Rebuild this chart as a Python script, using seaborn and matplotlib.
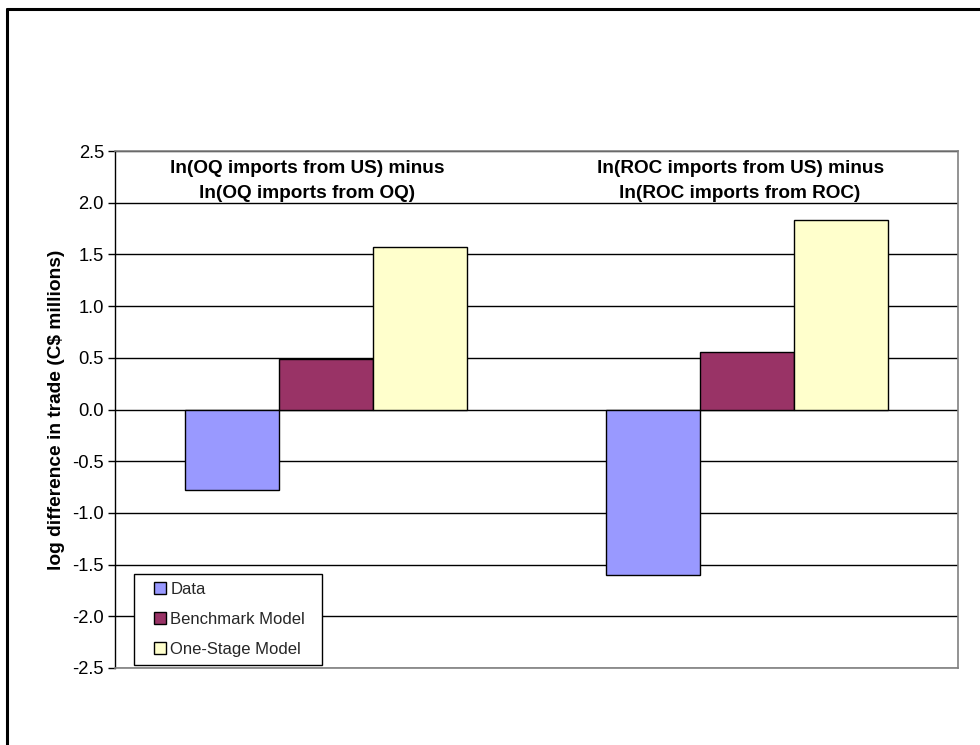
import matplotlib
matplotlib.use("Agg")
import matplotlib.pyplot as plt
import seaborn as sns
import pandas as pd
from matplotlib.patches import Rectangle
from matplotlib.lines import Line2D

sns.set_theme(style="white")
plt.rcParams['font.family'] = ['Liberation Sans', 'DejaVu Sans']
plt.rcParams['axes.unicode_minus'] = False

groups = ["OQ", "ROC"]
group_labels = ["ln(OQ imports from US) minus\nln(OQ imports from OQ)",
                "ln(ROC imports from US) minus\nln(ROC imports from ROC)"]
series = ["Data", "Benchmark Model", "One-Stage Model"]
data_vals = [-0.78, -1.60]
benchmark_vals = [0.49, 0.56]
onestage_vals = [1.57, 1.83]
colors = ["#9999FF", "#993366", "#FFFFCC"]
yticks = [2.5, 2.0, 1.5, 1.0, 0.5, 0.0, -0.5, -1.0, -1.5, -2.0, -2.5]

rows = []
for s, vals in zip(series, [data_vals, benchmark_vals, onestage_vals]):
    for g, v in zip(groups, vals):
        rows.append({"group": g, "series": s, "value": v})
df = pd.DataFrame(rows)

fig = plt.figure(figsize=(9.8, 7.45), dpi=100)
ax = fig.add_axes([115/980, 1-668/745, 843/980, 517/745])

ax.set_axisbelow(True)
for t in yticks:
    ax.axhline(t, color="black", lw=1.0, zorder=0)

sns.barplot(data=df, x="group", y="value", hue="series", order=groups,
            hue_order=series, palette=colors, width=0.669, gap=0,
            edgecolor="black", linewidth=1.0, saturation=1, ax=ax,
            legend=False, zorder=2)

ax.set_xlim(-0.5, 1.5)
ax.set_ylim(-2.5, 2.5)
ax.set_yticks(yticks)
ax.set_yticklabels([f"{t:.1f}" for t in yticks], fontsize=13.2, color="black")
ax.set_xticks([])
ax.set_xlabel("")
ax.set_ylabel("log difference in trade (C$ millions)", fontsize=13.8,
              fontweight="bold", color="black", labelpad=5)
ax.tick_params(axis="y", direction="out", length=5, width=1, color="black",
               pad=3, left=True)

for side in ["top", "right", "bottom"]:
    ax.spines[side].set_color("#808080")
    ax.spines[side].set_linewidth(1.2)
ax.spines["left"].set_color("black")
ax.spines["left"].set_linewidth(1.0)

text_x = [-0.045, 0.983]
for x, lab in zip(text_x, group_labels):
    ax.text(x, 2.21, lab, ha="center", va="center", multialignment="center",
            fontsize=13.7, fontweight="bold", color="black", linespacing=1.6,
            zorder=5)

# legend
rx0, rw = 19/843, 188/843
ry0, rh = 3/517, 91/517
ax.add_patch(Rectangle((rx0, ry0), rw, rh, transform=ax.transAxes,
                       facecolor="white", edgecolor="black", lw=1.0, zorder=6))
handles = [Rectangle((0, 0), 1, 1, facecolor=c, edgecolor="black", lw=1.0)
           for c in colors]
leg = ax.legend(handles, series, loc="center",
                bbox_to_anchor=(rx0 + rw/2 + 0.002, ry0 + rh/2),
                frameon=False, fontsize=12, handlelength=0.7, handleheight=0.7,
                handletextpad=0.25, labelspacing=0.9, borderpad=0.2)
leg.set_zorder(7)

# outer border (top and left)
fig.add_artist(Line2D([7/980, 1.0], [1-9/745, 1-9/745], color="black", lw=2.2,
                      transform=fig.transFigure))
fig.add_artist(Line2D([7/980, 7/980], [0, 1-9/745], color="black", lw=2.2,
                      transform=fig.transFigure))

fig.savefig("out.png", dpi=100, facecolor="white")
